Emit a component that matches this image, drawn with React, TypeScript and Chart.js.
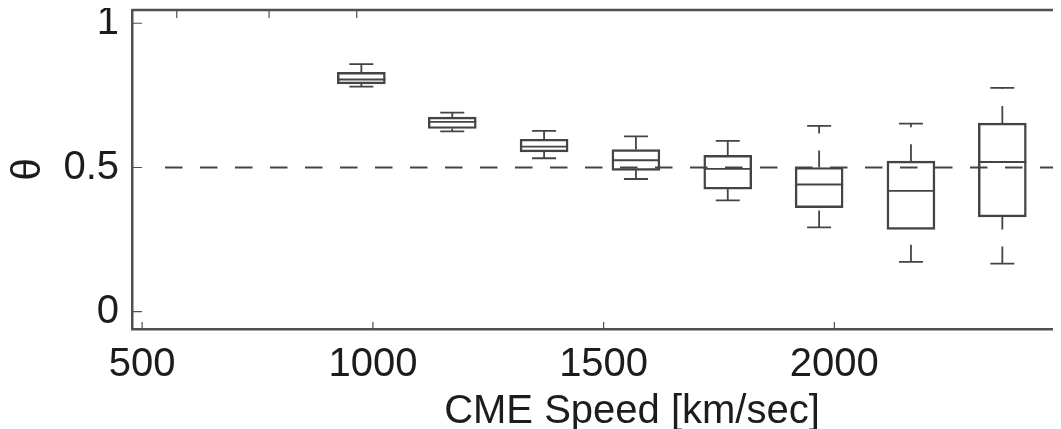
import React, { useEffect, useRef } from 'react';
import { Chart, registerables } from 'chart.js';

Chart.register(...registerables);

// ---- data ----
const speeds = [975, 1172, 1371, 1570, 1769, 1967, 2166, 2364];
const whiskerLow = [0.78, 0.625, 0.532, 0.46, 0.386, 0.292, 0.173, 0.167];
const quartile1 = [0.79, 0.635, 0.554, 0.49, 0.425, 0.361, 0.285, 0.329];
const medians = [0.805, 0.658, 0.572, 0.525, 0.495, 0.441, 0.419, 0.519];
const quartile3 = [0.83, 0.675, 0.598, 0.562, 0.542, 0.5, 0.522, 0.654];
const whiskerHigh = [0.858, 0.69, 0.627, 0.608, 0.592, 0.644, 0.652, 0.776];

const xTickLabelValues = [500, 1000, 1500, 2000];
const xTickMarkValues = [500, 1000, 1500, 2000, 2500];
const topTickMarkValues = [575, 775, 965];
const yTickValues = [0, 0.5, 1];
const referenceTheta = 0.5;

const xTitle = 'CME Speed [km/sec]';
const yTitle = 'θ';

const FONT = '"Liberation Sans", Arial, Helvetica, sans-serif';
const LINE = '#444444';
const AXIS = '#505050';
const TEXT = '#1c1c1c';

const boxDecor = {
  id: 'boxDecor',
  afterDatasetsDraw(chart: any) {
    const { ctx, chartArea, scales } = chart;
    const x = scales.x;
    const y = scales.y;
    ctx.save();
    ctx.strokeStyle = LINE;
    ctx.lineWidth = 1.8;
    const half = 24;
    const capHalf = 12;
    speeds.forEach((s, i) => {
      const cx = x.getPixelForValue(s);
      ctx.setLineDash([]);
      ctx.beginPath();
      ctx.moveTo(cx - half, y.getPixelForValue(medians[i]));
      ctx.lineTo(cx + half, y.getPixelForValue(medians[i]));
      ctx.stroke();
      ctx.beginPath();
      ctx.moveTo(cx - capHalf, y.getPixelForValue(whiskerHigh[i]));
      ctx.lineTo(cx + capHalf, y.getPixelForValue(whiskerHigh[i]));
      ctx.moveTo(cx - capHalf, y.getPixelForValue(whiskerLow[i]));
      ctx.lineTo(cx + capHalf, y.getPixelForValue(whiskerLow[i]));
      ctx.stroke();
      ctx.setLineDash([17, 17]);
      ctx.beginPath();
      ctx.moveTo(cx, y.getPixelForValue(quartile3[i]));
      ctx.lineTo(cx, y.getPixelForValue(whiskerHigh[i]));
      ctx.stroke();
      ctx.beginPath();
      ctx.moveTo(cx, y.getPixelForValue(whiskerLow[i]));
      ctx.lineTo(cx, y.getPixelForValue(quartile1[i]));
      ctx.stroke();
    });
    const ry = y.getPixelForValue(referenceTheta);
    ctx.setLineDash([17.5, 17.5]);
    ctx.lineWidth = 1.8;
    ctx.beginPath();
    ctx.moveTo(chartArea.left + 33, ry);
    ctx.lineTo(chartArea.right, ry);
    ctx.stroke();
    ctx.setLineDash([]);

    ctx.strokeStyle = AXIS;
    ctx.lineWidth = 2.5;
    ctx.beginPath();
    ctx.moveTo(chartArea.left, chartArea.top);
    ctx.lineTo(chartArea.right, chartArea.top);
    ctx.stroke();
    ctx.lineWidth = 1.2;
    ctx.beginPath();
    topTickMarkValues.forEach((v) => {
      const px = x.getPixelForValue(v);
      ctx.moveTo(px, chartArea.top);
      ctx.lineTo(px, chartArea.top + 8);
    });
    xTickMarkValues.forEach((v) => {
      const px = x.getPixelForValue(v);
      ctx.moveTo(px, chartArea.bottom);
      ctx.lineTo(px, chartArea.bottom - 7);
    });
    yTickValues.forEach((v) => {
      const py = y.getPixelForValue(v);
      ctx.moveTo(chartArea.left, py);
      ctx.lineTo(chartArea.left + 10, py);
    });
    ctx.stroke();
    ctx.restore();
  },
};

export default function App() {
  const ref = useRef<HTMLCanvasElement | null>(null);
  useEffect(() => {
    if (!ref.current) return;
    const chart = new Chart(ref.current, {
      type: 'bar',
      data: {
        datasets: [
          {
            data: speeds.map((s, i) => ({ x: s, y: [quartile1[i], quartile3[i]] })) as any,
            backgroundColor: 'rgba(0,0,0,0)',
            borderColor: LINE,
            borderWidth: 1.8,
            borderSkipped: false,
            barThickness: 48,
          },
        ],
      },
      options: {
        responsive: false,
        animation: false,
        devicePixelRatio: 1,
        layout: { padding: { left: 0, right: 6, top: 2, bottom: 0 } },
        plugins: { legend: { display: false }, tooltip: { enabled: false } },
        scales: {
          x: {
            type: 'linear',
            min: 478,
            max: 2645,
            offset: false,
            grid: { display: false, drawTicks: false },
            border: { display: true, color: AXIS, width: 2.5 },
            afterBuildTicks: (scale: any) => {
              scale.ticks = xTickLabelValues.map((v) => ({ value: v }));
            },
            afterFit: (scale: any) => {
              scale.height = 109;
              scale.paddingLeft = 0;
              scale.paddingRight = 0;
            },
            ticks: {
              padding: 12,
              color: TEXT,
              font: { family: FONT, size: 40 },
              maxRotation: 0,
              autoSkip: false,
              callback: (v: any) => String(v),
            },
            title: {
              display: true,
              text: xTitle,
              color: TEXT,
              font: { family: FONT, size: 40, lineHeight: 1 },
              padding: { top: 0, bottom: 6 },
            },
          },
          y: {
            type: 'linear',
            min: -0.06,
            max: 1.046,
            grid: { display: false, drawTicks: false },
            border: { display: true, color: AXIS, width: 2.5 },
            afterBuildTicks: (scale: any) => {
              scale.ticks = yTickValues.map((v) => ({ value: v }));
            },
            afterFit: (scale: any) => {
              scale.width = 124;
              scale.paddingTop = 0;
              scale.paddingBottom = 0;
            },
            ticks: {
              padding: 13,
              color: TEXT,
              font: { family: FONT, size: 40 },
              autoSkip: false,
              callback: (v: any) => String(v),
            },
            title: {
              display: true,
              text: yTitle,
              color: TEXT,
              font: { family: FONT, size: 40, lineHeight: 0.7 },
              padding: { top: 7, bottom: 0 },
            },
          },
        },
      },
      plugins: [boxDecor],
    });
    return () => chart.destroy();
  }, []);

  return (
    <div style={{ width: 1053, height: 421, overflow: 'hidden', position: 'relative' }}>
      <canvas ref={ref} width={1130} height={430} style={{ display: 'block' }} />
    </div>
  );
}
